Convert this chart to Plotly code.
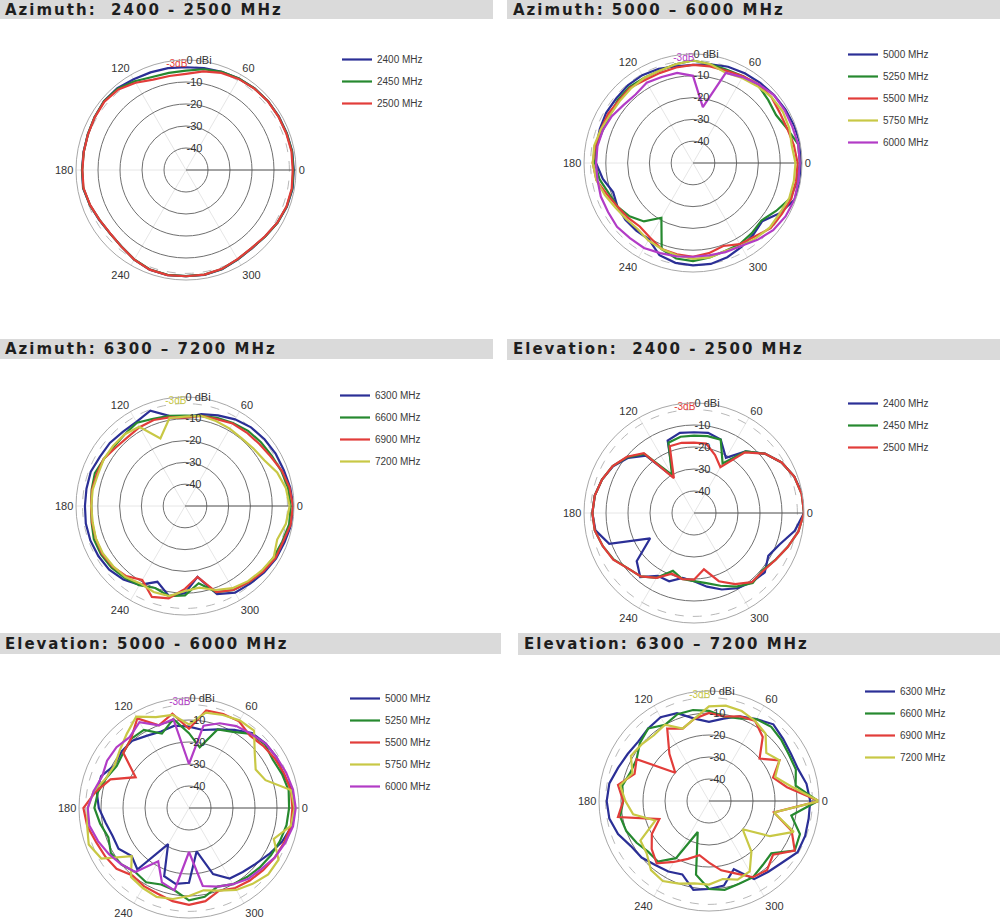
import plotly.graph_objects as go

W, H = 1000, 922

# ---------------- data (dBi, sampled every 10 degrees, 0..350) ----------------
ANGLES = list(range(0, 360, 10))
RADIAL_RANGE = [-50, 0]
RADIAL_TICKS = [-40, -30, -20, -10, 0]
RADIAL_TEXT = ["-40", "-30", "-20", "-10", "0 dBi"]
ANGULAR_TICKS = [0, 60, 120, 180, 240, 300]
ANGULAR_TEXT = ["0", "60", "120", "180", "240", "300"]
MINUS3_DB = -3
MINUS3_LABEL = "-3dB"

# Azimuth 2400-2500
AZ_2G_LABELS = ["2400 MHz", "2450 MHz", "2500 MHz"]
AZ_2G_2400 = [-1, -1, -1.2, -1.3, -1.3, -1.5, -2, -2.5, -3, -3.3, -3, -2.8, -2.4, -1.5, -1.3, -2, -2.5, -2.7,
              -2.7, -2.5, -3.5, -4.5, -5, -4.5, -3, -1.8, -1.5, -1.8, -1.6, -2, -3, -3.5, -3, -2, -1.2, -0.8]
AZ_2G_2450 = [-1.2, -1.1, -1.3, -1.4, -1.3, -1.6, -2, -2.5, -3.5, -4.8, -5.2, -5, -3.4, -1.7, -1.4, -2, -2.5, -2.8,
              -2.8, -2.6, -3.5, -4.6, -5, -4.5, -3, -1.9, -1.6, -1.8, -1.7, -2.1, -3.1, -3.6, -3, -2, -1.3, -1]
AZ_2G_2500 = [-1.5, -1.3, -1.5, -1.5, -1.4, -1.7, -2.2, -3, -4.5, -6.3, -6.6, -6.3, -4.2, -2.2, -1.6, -2.1, -2.6, -2.8,
              -2.9, -2.7, -3.6, -4.6, -5.1, -4.4, -3, -1.8, -1.5, -1.7, -1.7, -2.2, -3.2, -3.7, -3.1, -2.1, -1.4, -1.2]

# Azimuth 5000-6000
AZ_5G_LABELS = ["5000 MHz", "5250 MHz", "5500 MHz", "5750 MHz", "6000 MHz"]
AZ_5G_5000 = [-0.5, 0, -0.5, -1, -1.5, -2, -2.5, -3, -4, -5, -5, -4, -3.5, -3.5, -4, -4, -4.5, -5,
              -5.5, -8, -11, -10, -9.5, -9.5, -9.5, -5, -3.5, -3, -3, -4, -5.5, -7, -8.5, -4, -0.5, 0]
AZ_5G_5250 = [-1, -1, -4, -6, -5, -3.5, -4, -4.5, -4, -3, -4, -5, -5, -4.5, -5, -6, -6, -5,
              -5, -6.5, -9, -10, -12, -15, -21, -8, -5.5, -5, -6, -7, -7, -8, -9, -6, -2.5, -1.5]
AZ_5G_5500 = [-2, -3, -4, -4, -3, -3, -4, -5, -5, -5, -5.5, -6, -6, -5, -5.5, -5, -5, -4.5,
              -4, -5, -8, -10, -11, -12, -10.5, -8, -7.5, -7, -8, -9.5, -7, -6, -3.5, -3, -2, -2]
AZ_5G_5750 = [-3, -4, -3, -2.5, -3, -4, -5, -6, -4, -3, -4, -5, -5, -5.5, -6, -6, -5, -4,
              -4, -5, -7, -9, -10, -10.5, -9, -8, -7, -6, -6, -7, -6, -5, -4, -4, -3, -3]
AZ_5G_6000 = [-1, -1, -1.5, -1.5, -1.5, -3, -4.5, -6, -24, -10, -8, -8, -7.5, -9, -8.5, -7, -6, -5.5,
              -5.5, -5.5, -5, -5, -4.5, -5, -5, -6, -6.5, -7, -7, -6.5, -6, -4, -2, -1, -0.5, -1]

# Azimuth 6300-7200
AZ_6G_LABELS = ["6300 MHz", "6600 MHz", "6900 MHz", "7200 MHz"]
AZ_6G_6300 = [-0.3, -1, -1.8, -2, -2.4, -2.9, -4.1, -5.8, -7.2, -9.5, -8, -3.5, -5.4, -5.6, -5, -4.9, -4, -4.1,
              -4.1, -3.8, -3.8, -4.1, -4.6, -6, -8.2, -13, -8, -10, -17, -7, -4.1, -3.5, -2.6, -1.8, -1.4, -0.5]
AZ_6G_6600 = [-1.5, -2, -3, -4, -4.5, -5, -6, -7, -8, -8.5, -8, -7.4, -5.9, -7, -7.5, -7, -6, -6.5,
              -7, -6.5, -5.5, -5.5, -6, -7, -8, -10, -8, -9, -14, -8, -5.5, -4.5, -3.5, -3, -2.5, -1.5]
AZ_6G_6900 = [-0.5, -1.3, -2.7, -4.6, -5.6, -6, -6.3, -7.6, -8, -9.5, -8.7, -8, -8.3, -8.9, -8.4, -6.9, -6.9, -6.7,
              -6.9, -6.7, -6.4, -6.1, -6.7, -8, -10.8, -5.6, -7, -12, -17, -8, -5.5, -4.4, -3.2, -2.1, -2.1, -0.8]
AZ_6G_7200 = [-2, -3, -5, -8, -9, -9.5, -9, -8.5, -8, -9, -9, -17, -8, -7, -7, -7, -7.5, -7,
              -7, -7, -6.5, -6.5, -7, -7.5, -9, -8, -8, -11, -12, -9, -6.5, -5, -4, -3, -5, -3]

# Elevation 2400-2500
EL_2G_LABELS = ["2400 MHz", "2450 MHz", "2500 MHz"]
EL_2G_2400 = [0, 0, -1.5, -4, -8, -13.5, -21, -14.5, -13, -13.3, -13, -15, -31, -16, -11, -7.5, -5.5, -4.2,
              -3.8, -4.5, -9, -27, -16, -12, -17, -17, -20, -19, -16, -13, -10.5, -9, -8, -11, -8.5, -3.5]
EL_2G_2450 = [0, -0.3, -1.5, -4, -8, -13.5, -24, -14.5, -14.5, -14.8, -14.8, -16, -30, -15, -10.5, -7.3, -5.5, -4.2,
              -3.8, -4.2, -5.9, -7.8, -10.8, -12.4, -16, -22, -19.5, -19, -17.6, -14.8, -11.4, -8.5, -9.4, -7.3, -4.7, -1.8]
EL_2G_2500 = [0, -0.3, -1.5, -4, -8, -14, -26, -22, -18, -18, -17.6, -17.7, -31.7, -14.5, -10.2, -7.3, -5.5, -4.2,
              -3.8, -4.2, -5.9, -7.6, -10.8, -12.4, -16, -20.6, -19.5, -19.7, -24, -17, -12.7, -9, -9, -7.3, -4.7, -1.8]

# Elevation 5000-6000
EL_5G_LABELS = ["5000 MHz", "5250 MHz", "5500 MHz", "5750 MHz", "6000 MHz"]
EL_5G_5000 = [-2, -2.5, -4.5, -4, -4.5, -5.5, -9, -12, -14, -13, -12, -13, -12, -10, -10, -11, -7.5, -7.4,
              -9, -11.5, -13, -13, -16, -13.5, -31, -17, -15, -16, -30, -18, -13, -12, -10.5, -8, -5, -2.5]
EL_5G_5250 = [-4.5, -4, -5, -6, -5, -6, -10, -12, -22, -16, -9, -14, -9, -9, -11, -12, -10, -8,
              -7, -9, -11, -9, -10, -12, -11, -13, -12, -8, -9, -12, -10, -9, -8, -7, -6, -5]
EL_5G_5500 = [-3, -3, -4, -5, -6, -7, -4.5, -4.5, -5, -14, -6.5, -10, -3, -9, -11, -22, -12, -7,
              -2, -3, -5, -6, -7, -10, -9, -8.5, -7, -6, -7, -10, -8, -7, -6, -5, -4, -3]
EL_5G_5750 = [-2, -3, -13, -15, -11, -4, -4, -5, -6, -12, -7, -6, -2, -6, -9, -11, -10, -6,
              -4, -3, -1.5, -4, -16, -9, -8, -7, -8, -10, -12, -10, -7, -5, -3, -3, -9, -3]
EL_5G_6000 = [-1.5, -2, -3, -4, -4.5, -6, -7, -9, -12, -30, -9, -10, -5, -8, -7, -7, -8, -6,
              -4, -4, -6, -8, -10, -12, -22, -14, -12, -30, -14, -12, -10, -8, -7, -5, -3.5, -2]

# Elevation 6300-7200
EL_6G_LABELS = ["6300 MHz", "6600 MHz", "6900 MHz", "7200 MHz"]
EL_6G_6300 = [-4, -5, -7, -7, -6, -4.5, -7, -9, -12, -14, -12, -7.5, -6, -7, -8, -7.3, -6, -4,
              -3.5, -4, -6, -9, -10, -12, -13, -14.5, -9, -10, -11, -17, -9, -8, -6.5, -3.5, -3.5, -4]
EL_6G_6600 = [-0.5, -10, -8, -8, -7, -6, -7, -10, -11, -9, -8, -8, -10, -7, -9, -12, -12, -10,
              -11, -9, -10, -12, -14, -14, -20, -35, -16, -10, -9, -10, -10, -12, -13, -5, -6, -12]
EL_6G_6900 = [0, -14, -19, -13, -20, -12, -8, -9, -11, -10, -12, -15, -12, -22, -30, -12, -14, -8,
              -11, -8, -26, -20, -16, -13, -18, -22, -25, -22, -18, -15, -10, -9, -12, -5, -10, -20]
EL_6G_7200 = [0, -12, -18, -13, -16, -10, -8, -6.5, -6, -7, -12, -15, -10, -11, -10, -9, -13, -9,
              -12, -15, -24, -14, -13, -9, -8, -10, -12, -12, -14, -12, -13, -20, -30, -18, -9, -20]

TITLES = [
    "Azimuth:  2400 - 2500 MHz",
    "Azimuth: 5000 \u2013 6000 MHz",
    "Azimuth: 6300 \u2013 7200 MHz",
    "Elevation:  2400 - 2500 MHz",
    "Elevation: 5000 - 6000 MHz",
    "Elevation: 6300 \u2013 7200 MHz",
]

# ---------------- styling ----------------
BLUE = "#2b2f96"
GREEN = "#26892f"
RED = "#e23d3a"
YELLOW = "#c8c845"
MAGENTA = "#b23cc6"
FONT = "Liberation Sans, Arial, sans-serif"

panels = [
    dict(labels=AZ_2G_LABELS, series=[AZ_2G_2400, AZ_2G_2450, AZ_2G_2500], colors=[BLUE, GREEN, RED],
         c=(186, 170), R=110, leg=(337, 45), banner=(0, 0, 493, 19), tx=3),
    dict(labels=AZ_5G_LABELS, series=[AZ_5G_5000, AZ_5G_5250, AZ_5G_5500, AZ_5G_5750, AZ_5G_6000],
         colors=[BLUE, GREEN, RED, YELLOW, MAGENTA],
         c=(693, 163), R=109, leg=(843, 40), banner=(507, 0, 1000, 19), tx=511),
    dict(labels=AZ_6G_LABELS, series=[AZ_6G_6300, AZ_6G_6600, AZ_6G_6900, AZ_6G_7200],
         colors=[BLUE, GREEN, RED, YELLOW],
         c=(185, 506), R=109, leg=(335, 381), banner=(0, 339, 493, 359), tx=3),
    dict(labels=EL_2G_LABELS, series=[EL_2G_2400, EL_2G_2450, EL_2G_2500], colors=[BLUE, GREEN, RED],
         c=(694, 513), R=110, leg=(843, 389), banner=(507, 339, 1000, 360), tx=511),
    dict(labels=EL_5G_LABELS, series=[EL_5G_5000, EL_5G_5250, EL_5G_5500, EL_5G_5750, EL_5G_6000],
         colors=[BLUE, GREEN, RED, YELLOW, MAGENTA],
         c=(189, 808), R=110, leg=(345, 684), banner=(0, 633, 501, 654), tx=3),
    dict(labels=EL_6G_LABELS, series=[EL_6G_6300, EL_6G_6600, EL_6G_6900, EL_6G_7200],
         colors=[BLUE, GREEN, RED, YELLOW],
         c=(709, 801), R=110, leg=(860, 677), banner=(518, 633, 1000, 655), tx=522),
]

fig = go.Figure()
layout = dict(width=W, height=H, margin=dict(l=0, r=0, t=0, b=0), paper_bgcolor="white",
              template="none", font=dict(family=FONT, color="#333333"),
              shapes=[], annotations=[])

theta_closed = ANGLES + [360]
ring_theta = list(range(0, 361, 3))


def clamp(v):
    return max(0.0, min(1.0, v))


for i, p in enumerate(panels, start=1):
    sub = "polar" if i == 1 else f"polar{i}"
    leg = "legend" if i == 1 else f"legend{i}"

    fig.add_trace(go.Scatterpolar(r=[MINUS3_DB] * len(ring_theta), theta=ring_theta, mode="lines",
                                  line=dict(color="#b8b8b8", width=1, dash="dash"),
                                  showlegend=False, hoverinfo="skip", subplot=sub))
    fig.add_trace(go.Scatterpolar(r=RADIAL_RANGE, theta=[0, 0], mode="lines",
                                  line=dict(color="#555555", width=1),
                                  showlegend=False, hoverinfo="skip", subplot=sub))
    for j, (lab, vals, col) in enumerate(zip(p["labels"], p["series"], p["colors"])):
        fig.add_trace(go.Scatterpolar(r=vals + vals[:1], theta=theta_closed, mode="lines", name=lab,
                                      line=dict(color=col, width=2.2), subplot=sub, legend=leg,
                                      legendgroup=f"{sub}_{j}"))
    fig.add_trace(go.Scatterpolar(r=[MINUS3_DB + 1.2], theta=[95], mode="text", text=[MINUS3_LABEL],
                                  textfont=dict(color=p["colors"][-1], size=10, family=FONT),
                                  showlegend=False, hoverinfo="skip", subplot=sub))

    cx, cy = p["c"]
    R = p["R"]
    layout[sub] = dict(
        domain=dict(x=[clamp((cx - R) / W), clamp((cx + R) / W)],
                    y=[clamp(1 - (cy + R) / H), clamp(1 - (cy - R) / H)]),
        bgcolor="white",
        angularaxis=dict(tickvals=ANGULAR_TICKS, ticktext=ANGULAR_TEXT, direction="counterclockwise",
                         rotation=0, showgrid=True, gridcolor="#e6e6e6", gridwidth=1,
                         showline=True, linecolor="#a8a8a8", linewidth=1, ticks="",
                         tickfont=dict(size=11, color="#333333", family=FONT)),
        radialaxis=dict(range=RADIAL_RANGE, tickvals=RADIAL_TICKS, ticktext=RADIAL_TEXT, angle=90,
                        tickangle=90, showline=False, showgrid=True, gridcolor="#707070", gridwidth=1,
                        ticks="", tickfont=dict(size=11, color="#333333", family=FONT)),
    )
    lx, ly = p["leg"]
    layout[leg] = dict(x=lx / W, y=1 - ly / H, xanchor="left", yanchor="top", bgcolor="rgba(0,0,0,0)",
                       font=dict(size=10, color="#3a3a3a", family=FONT), traceorder="grouped",
                       tracegroupgap=3, itemwidth=30)

    bx0, by0, bx1, by1 = p["banner"]
    layout["shapes"].append(dict(type="rect", xref="paper", yref="paper", x0=bx0 / W, x1=bx1 / W,
                                 y0=1 - by1 / H, y1=1 - by0 / H, fillcolor="#dadada",
                                 line=dict(width=0), layer="below"))
    layout["annotations"].append(dict(
        x=p["tx"] / W, y=1 - (by0 + by1) / 2 / H, xref="paper", yref="paper", xanchor="left",
        yanchor="middle", showarrow=False,
        text=f'<span style="letter-spacing:2px">{TITLES[i - 1]}</span>',
        font=dict(family="DejaVu Sans, sans-serif", size=15, color="#1e1e1e", weight="bold")))

fig.update_layout(**layout)
fig.write_html("out.html", config={"displayModeBar": False},
               post_script="document.body.style.margin='0px';document.body.style.padding='0px';")
